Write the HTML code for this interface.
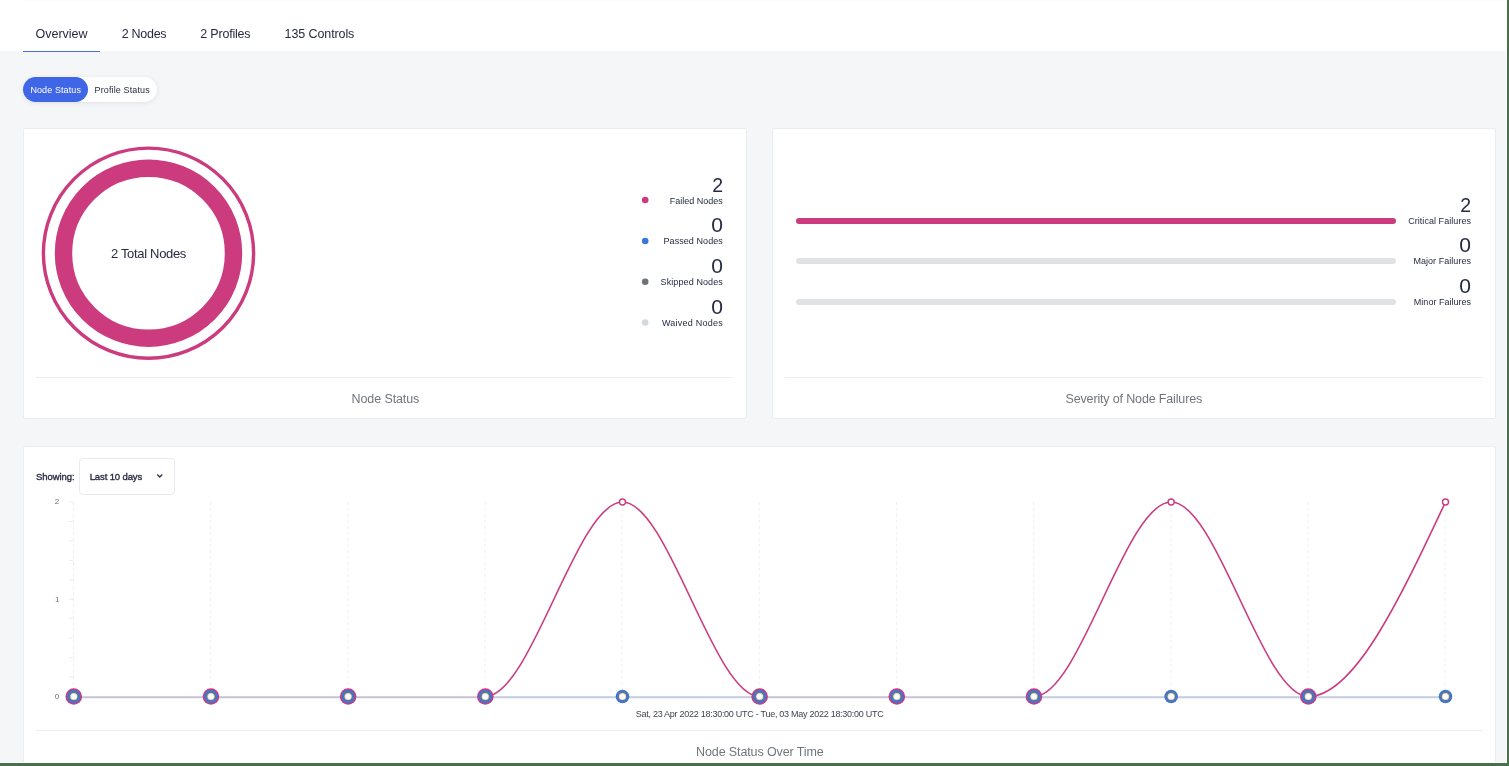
<!DOCTYPE html>
<html><head><meta charset="utf-8"><title>Compliance Reports</title>
<style>
html,body{margin:0;padding:0}
body{width:1509px;height:766px;overflow:hidden;position:relative;background:#f4f6f8;font-family:"Liberation Sans",sans-serif}
.t{position:absolute;white-space:nowrap;line-height:1}
.abs{position:absolute}
.card{position:absolute;background:#fff;border:1px solid #eaedf0;border-radius:2px;box-sizing:border-box}
.hr{position:absolute;height:1px;background:#eceff2}
.bar{position:absolute;left:796px;width:600px;height:6px;border-radius:3px;background:#dfe3e6}
</style></head><body>
<div class="abs" style="left:0;top:0;width:1509px;height:51px;background:#fff"></div>
<div class="abs" style="left:23px;top:0;width:1483px;height:1px;background:#fcfcfd"></div>
<div class="abs" style="left:23px;top:51px;width:77px;height:1px;background:#4a6be6"></div>
<div class="abs" style="left:23px;top:77px;width:134px;height:25px;border-radius:13px;background:#fff;box-shadow:0 1px 5px rgba(40,50,70,.10)"></div>
<div class="abs" style="left:23px;top:77px;width:65px;height:25px;border-radius:13px;background:#4066e8"></div>
<div class="card" style="left:23px;top:128px;width:724px;height:291px"></div>
<div class="card" style="left:772px;top:128px;width:724px;height:291px"></div>
<div class="card" style="left:23px;top:446px;width:1473px;height:340px"></div>
<div class="hr" style="left:36px;top:377px;width:698px"></div>
<div class="hr" style="left:785px;top:377px;width:698px"></div>
<div class="hr" style="left:36px;top:730px;width:1447px"></div>
<div class="bar" style="top:218px;background:#cb3b7e"></div>
<div class="bar" style="top:258px"></div>
<div class="bar" style="top:299px"></div>
<div class="abs" style="left:79px;top:458px;width:96px;height:37px;box-sizing:border-box;border:1px solid #e7eaee;border-radius:4px;background:#fff"></div>
<svg class="abs" style="left:0;top:0" width="1509" height="766" viewBox="0 0 1509 766">
<circle cx="148.5" cy="253.2" r="105.1" fill="none" stroke="#cb3b7e" stroke-width="3.4"/>
<circle cx="148.5" cy="253.2" r="85" fill="none" stroke="#cb3b7e" stroke-width="17.4"/>
<circle cx="645.2" cy="200" r="3.3" fill="#cb3b7e"/><circle cx="645.2" cy="241" r="3.3" fill="#3a77dc"/><circle cx="645.2" cy="281.8" r="3.3" fill="#6e7377"/><circle cx="645.2" cy="322.5" r="3.3" fill="#d3d9de"/>
<path d="M157.5,474.8 L159.75,477.0 L162.0,474.8" fill="none" stroke="#272b41" stroke-width="1.2" stroke-linecap="round" stroke-linejoin="round"/>
<line x1="73.50" y1="502.0" x2="73.50" y2="696.5" stroke="#eceff3" stroke-width="1" stroke-dasharray="3 3"/>
<line x1="210.67" y1="502.0" x2="210.67" y2="696.5" stroke="#eceff3" stroke-width="1" stroke-dasharray="3 3"/>
<line x1="347.84" y1="502.0" x2="347.84" y2="696.5" stroke="#eceff3" stroke-width="1" stroke-dasharray="3 3"/>
<line x1="485.01" y1="502.0" x2="485.01" y2="696.5" stroke="#eceff3" stroke-width="1" stroke-dasharray="3 3"/>
<line x1="622.18" y1="502.0" x2="622.18" y2="696.5" stroke="#eceff3" stroke-width="1" stroke-dasharray="3 3"/>
<line x1="759.35" y1="502.0" x2="759.35" y2="696.5" stroke="#eceff3" stroke-width="1" stroke-dasharray="3 3"/>
<line x1="896.52" y1="502.0" x2="896.52" y2="696.5" stroke="#eceff3" stroke-width="1" stroke-dasharray="3 3"/>
<line x1="1033.69" y1="502.0" x2="1033.69" y2="696.5" stroke="#eceff3" stroke-width="1" stroke-dasharray="3 3"/>
<line x1="1170.86" y1="502.0" x2="1170.86" y2="696.5" stroke="#eceff3" stroke-width="1" stroke-dasharray="3 3"/>
<line x1="1308.03" y1="502.0" x2="1308.03" y2="696.5" stroke="#eceff3" stroke-width="1" stroke-dasharray="3 3"/>
<line x1="1445.20" y1="502.0" x2="1445.20" y2="696.5" stroke="#eceff3" stroke-width="1" stroke-dasharray="3 3"/>
<line x1="69" y1="502.00" x2="73.5" y2="502.00" stroke="#e8ebef" stroke-width="1"/>
<line x1="69" y1="521.45" x2="73.5" y2="521.45" stroke="#e8ebef" stroke-width="1"/>
<line x1="69" y1="540.90" x2="73.5" y2="540.90" stroke="#e8ebef" stroke-width="1"/>
<line x1="69" y1="560.35" x2="73.5" y2="560.35" stroke="#e8ebef" stroke-width="1"/>
<line x1="69" y1="579.80" x2="73.5" y2="579.80" stroke="#e8ebef" stroke-width="1"/>
<line x1="69" y1="599.25" x2="73.5" y2="599.25" stroke="#e8ebef" stroke-width="1"/>
<line x1="69" y1="618.70" x2="73.5" y2="618.70" stroke="#e8ebef" stroke-width="1"/>
<line x1="69" y1="638.15" x2="73.5" y2="638.15" stroke="#e8ebef" stroke-width="1"/>
<line x1="69" y1="657.60" x2="73.5" y2="657.60" stroke="#e8ebef" stroke-width="1"/>
<line x1="69" y1="677.05" x2="73.5" y2="677.05" stroke="#e8ebef" stroke-width="1"/>
<line x1="69" y1="696.50" x2="73.5" y2="696.50" stroke="#e8ebef" stroke-width="1"/>
<rect x="73.80" y="696" width="137.17" height="1" fill="#d6d3df"/>
<rect x="73.80" y="698" width="137.17" height="1" fill="#f2f0f5"/>
<rect x="73.80" y="697" width="137.17" height="1" fill="#c8c0d6"/>
<rect x="210.97" y="696" width="137.17" height="1" fill="#d6d3df"/>
<rect x="210.97" y="698" width="137.17" height="1" fill="#f2f0f5"/>
<rect x="210.97" y="697" width="137.17" height="1" fill="#c8c0d6"/>
<rect x="348.14" y="696" width="137.17" height="1" fill="#d6d3df"/>
<rect x="348.14" y="698" width="137.17" height="1" fill="#f2f0f5"/>
<rect x="348.14" y="697" width="137.17" height="1" fill="#c8c0d6"/>
<rect x="485.31" y="696" width="137.17" height="1" fill="#d2d8e3"/>
<rect x="485.31" y="698" width="137.17" height="1" fill="#eff2f6"/>
<rect x="485.31" y="697" width="137.17" height="1" fill="#c0cedf"/>
<rect x="622.48" y="696" width="137.17" height="1" fill="#d2d8e3"/>
<rect x="622.48" y="698" width="137.17" height="1" fill="#eff2f6"/>
<rect x="622.48" y="697" width="137.17" height="1" fill="#c0cedf"/>
<rect x="759.65" y="696" width="137.17" height="1" fill="#d6d3df"/>
<rect x="759.65" y="698" width="137.17" height="1" fill="#f2f0f5"/>
<rect x="759.65" y="697" width="137.17" height="1" fill="#c8c0d6"/>
<rect x="896.82" y="696" width="137.17" height="1" fill="#d6d3df"/>
<rect x="896.82" y="698" width="137.17" height="1" fill="#f2f0f5"/>
<rect x="896.82" y="697" width="137.17" height="1" fill="#c8c0d6"/>
<rect x="1033.99" y="696" width="137.17" height="1" fill="#d2d8e3"/>
<rect x="1033.99" y="698" width="137.17" height="1" fill="#eff2f6"/>
<rect x="1033.99" y="697" width="137.17" height="1" fill="#c0cedf"/>
<rect x="1171.16" y="696" width="137.17" height="1" fill="#d2d8e3"/>
<rect x="1171.16" y="698" width="137.17" height="1" fill="#eff2f6"/>
<rect x="1171.16" y="697" width="137.17" height="1" fill="#c0cedf"/>
<rect x="1308.33" y="696" width="137.17" height="1" fill="#d2d8e3"/>
<rect x="1308.33" y="698" width="137.17" height="1" fill="#eff2f6"/>
<rect x="1308.33" y="697" width="137.17" height="1" fill="#c0cedf"/>
<path d="M485.31,696.50C531.03,696.50 576.76,502.00 622.48,502.00C668.20,502.00 713.93,696.50 759.65,696.50M1033.99,696.50C1079.71,696.50 1125.44,502.00 1171.16,502.00C1216.88,502.00 1262.61,696.50 1308.33,696.50C1354.05,696.50 1399.78,599.25 1445.50,502.00" fill="none" stroke="#cb3b7e" stroke-width="1.6"/>
<circle cx="73.80" cy="696.5" r="8.3" fill="#cb3b7e"/>
<circle cx="73.80" cy="696.5" r="6.8" fill="#3a77dc"/>
<circle cx="73.80" cy="696.5" r="5.0" fill="#6e7377"/>
<circle cx="73.80" cy="696.5" r="3.6" fill="#dce0e4"/>
<circle cx="73.80" cy="696.5" r="2.6" fill="#fff"/>
<circle cx="210.97" cy="696.5" r="8.3" fill="#cb3b7e"/>
<circle cx="210.97" cy="696.5" r="6.8" fill="#3a77dc"/>
<circle cx="210.97" cy="696.5" r="5.0" fill="#6e7377"/>
<circle cx="210.97" cy="696.5" r="3.6" fill="#dce0e4"/>
<circle cx="210.97" cy="696.5" r="2.6" fill="#fff"/>
<circle cx="348.14" cy="696.5" r="8.3" fill="#cb3b7e"/>
<circle cx="348.14" cy="696.5" r="6.8" fill="#3a77dc"/>
<circle cx="348.14" cy="696.5" r="5.0" fill="#6e7377"/>
<circle cx="348.14" cy="696.5" r="3.6" fill="#dce0e4"/>
<circle cx="348.14" cy="696.5" r="2.6" fill="#fff"/>
<circle cx="485.31" cy="696.5" r="8.3" fill="#cb3b7e"/>
<circle cx="485.31" cy="696.5" r="6.8" fill="#3a77dc"/>
<circle cx="485.31" cy="696.5" r="5.0" fill="#6e7377"/>
<circle cx="485.31" cy="696.5" r="3.6" fill="#dce0e4"/>
<circle cx="485.31" cy="696.5" r="2.6" fill="#fff"/>
<circle cx="622.48" cy="502.0" r="3" fill="#fff" stroke="#cb3b7e" stroke-width="1.4"/>
<circle cx="622.48" cy="696.5" r="6.8" fill="#3a77dc"/>
<circle cx="622.48" cy="696.5" r="5.0" fill="#6e7377"/>
<circle cx="622.48" cy="696.5" r="3.6" fill="#dce0e4"/>
<circle cx="622.48" cy="696.5" r="2.6" fill="#fff"/>
<circle cx="759.65" cy="696.5" r="8.3" fill="#cb3b7e"/>
<circle cx="759.65" cy="696.5" r="6.8" fill="#3a77dc"/>
<circle cx="759.65" cy="696.5" r="5.0" fill="#6e7377"/>
<circle cx="759.65" cy="696.5" r="3.6" fill="#dce0e4"/>
<circle cx="759.65" cy="696.5" r="2.6" fill="#fff"/>
<circle cx="896.82" cy="696.5" r="8.3" fill="#cb3b7e"/>
<circle cx="896.82" cy="696.5" r="6.8" fill="#3a77dc"/>
<circle cx="896.82" cy="696.5" r="5.0" fill="#6e7377"/>
<circle cx="896.82" cy="696.5" r="3.6" fill="#dce0e4"/>
<circle cx="896.82" cy="696.5" r="2.6" fill="#fff"/>
<circle cx="1033.99" cy="696.5" r="8.3" fill="#cb3b7e"/>
<circle cx="1033.99" cy="696.5" r="6.8" fill="#3a77dc"/>
<circle cx="1033.99" cy="696.5" r="5.0" fill="#6e7377"/>
<circle cx="1033.99" cy="696.5" r="3.6" fill="#dce0e4"/>
<circle cx="1033.99" cy="696.5" r="2.6" fill="#fff"/>
<circle cx="1171.16" cy="502.0" r="3" fill="#fff" stroke="#cb3b7e" stroke-width="1.4"/>
<circle cx="1171.16" cy="696.5" r="6.8" fill="#3a77dc"/>
<circle cx="1171.16" cy="696.5" r="5.0" fill="#6e7377"/>
<circle cx="1171.16" cy="696.5" r="3.6" fill="#dce0e4"/>
<circle cx="1171.16" cy="696.5" r="2.6" fill="#fff"/>
<circle cx="1308.33" cy="696.5" r="8.3" fill="#cb3b7e"/>
<circle cx="1308.33" cy="696.5" r="6.8" fill="#3a77dc"/>
<circle cx="1308.33" cy="696.5" r="5.0" fill="#6e7377"/>
<circle cx="1308.33" cy="696.5" r="3.6" fill="#dce0e4"/>
<circle cx="1308.33" cy="696.5" r="2.6" fill="#fff"/>
<circle cx="1445.50" cy="502.0" r="3" fill="#fff" stroke="#cb3b7e" stroke-width="1.4"/>
<circle cx="1445.50" cy="696.5" r="6.8" fill="#3a77dc"/>
<circle cx="1445.50" cy="696.5" r="5.0" fill="#6e7377"/>
<circle cx="1445.50" cy="696.5" r="3.6" fill="#dce0e4"/>
<circle cx="1445.50" cy="696.5" r="2.6" fill="#fff"/>
</svg>
<div class="abs" style="left:0;top:0;width:1509px;height:766px;will-change:transform">
<div class="t" style="font-size:12.5px;color:#272b41;top:27.72px;left:35.50px;">Overview</div>
<div class="t" style="font-size:12.5px;color:#272b41;top:27.72px;letter-spacing:-0.28px;left:121.70px;">2 Nodes</div>
<div class="t" style="font-size:12.5px;color:#272b41;top:27.72px;letter-spacing:-0.2px;left:200.30px;">2 Profiles</div>
<div class="t" style="font-size:12.5px;color:#272b41;top:27.72px;letter-spacing:-0.1px;left:284.60px;">135 Controls</div>
<div class="t" style="font-size:9px;color:#ffffff;top:85.68px;letter-spacing:0.1px;left:30.40px;">Node Status</div>
<div class="t" style="font-size:9px;color:#272b41;top:85.68px;letter-spacing:0.12px;left:94.60px;">Profile Status</div>
<div class="t" style="font-size:13px;color:#272b41;top:247.30px;letter-spacing:-0.32px;left:148.50px;transform:translateX(-50%);">2 Total Nodes</div>
<div class="t" style="font-size:19.5px;color:#272b41;top:175.89px;right:786.00px;">2</div>
<div class="t" style="font-size:9px;color:#272b41;top:196.98px;right:786.20px;">Failed Nodes</div>
<div class="t" style="font-size:19.5px;color:#272b41;top:215.89px;right:786.00px;transform:scaleX(1.08);transform-origin:right center;">0</div>
<div class="t" style="font-size:9px;color:#272b41;top:236.98px;letter-spacing:0.07px;right:786.20px;margin-right:-0.07px;">Passed Nodes</div>
<div class="t" style="font-size:19.5px;color:#272b41;top:256.69px;right:786.00px;transform:scaleX(1.08);transform-origin:right center;">0</div>
<div class="t" style="font-size:9px;color:#272b41;top:277.78px;letter-spacing:0.1px;right:786.20px;margin-right:-0.1px;">Skipped Nodes</div>
<div class="t" style="font-size:19.5px;color:#272b41;top:297.89px;right:786.00px;transform:scaleX(1.08);transform-origin:right center;">0</div>
<div class="t" style="font-size:9px;color:#272b41;top:318.78px;letter-spacing:0.24px;right:786.20px;margin-right:-0.24px;">Waived Nodes</div>
<div class="t" style="font-size:19.5px;color:#272b41;top:195.99px;right:37.80px;">2</div>
<div class="t" style="font-size:9px;color:#272b41;top:216.78px;letter-spacing:0.05px;right:38.00px;margin-right:-0.05px;">Critical Failures</div>
<div class="t" style="font-size:19.5px;color:#272b41;top:236.49px;right:37.80px;transform:scaleX(1.08);transform-origin:right center;">0</div>
<div class="t" style="font-size:9px;color:#272b41;top:257.38px;letter-spacing:0.04px;right:38.00px;margin-right:-0.04px;">Major Failures</div>
<div class="t" style="font-size:19.5px;color:#272b41;top:277.09px;right:37.80px;transform:scaleX(1.08);transform-origin:right center;">0</div>
<div class="t" style="font-size:9px;color:#272b41;top:298.38px;letter-spacing:0.01px;right:38.00px;margin-right:-0.01px;">Minor Failures</div>
<div class="t" style="font-size:12.5px;color:#70767c;top:392.62px;letter-spacing:-0.11px;left:385.40px;transform:translateX(-50%);">Node Status</div>
<div class="t" style="font-size:12.5px;color:#70767c;top:392.62px;letter-spacing:-0.15px;left:1133.80px;transform:translateX(-50%);">Severity of Node Failures</div>
<div class="t" style="font-size:12.5px;color:#70767c;top:745.62px;letter-spacing:-0.115px;left:759.80px;transform:translateX(-50%);">Node Status Over Time</div>
<div class="t" style="font-size:9.5px;color:#272b41;top:472.26px;letter-spacing:-0.09px;left:36.10px;-webkit-text-stroke:0.35px #272b41;">Showing:</div>
<div class="t" style="font-size:9.5px;color:#272b41;top:472.26px;letter-spacing:-0.12px;left:89.70px;-webkit-text-stroke:0.35px #272b41;">Last 10 days</div>
<div class="t" style="font-size:9px;color:#3f4350;top:710.38px;letter-spacing:-0.27px;left:759.60px;transform:translateX(-50%);">Sat, 23 Apr 2022 18:30:00 UTC - Tue, 03 May 2022 18:30:00 UTC</div>
<div class="t" style="font-size:8px;color:#6b6f75;top:498.03px;left:57.00px;transform:translateX(-50%);">2</div>
<div class="t" style="font-size:8px;color:#6b6f75;top:596.13px;left:57.20px;transform:translateX(-50%);">1</div>
<div class="t" style="font-size:8px;color:#6b6f75;top:692.63px;left:57.00px;transform:translateX(-50%);">0</div>
</div>
<div class="abs" style="left:0;top:762px;width:1509px;height:1px;background:#fff"></div>
<div class="abs" style="left:1506px;top:0;width:1px;height:766px;background:#fff"></div>
<div class="abs" style="left:0;top:763px;width:1509px;height:3px;background:#48704a"></div>
<div class="abs" style="left:1507px;top:0;width:2px;height:766px;background:#48704a"></div>
</body></html>
